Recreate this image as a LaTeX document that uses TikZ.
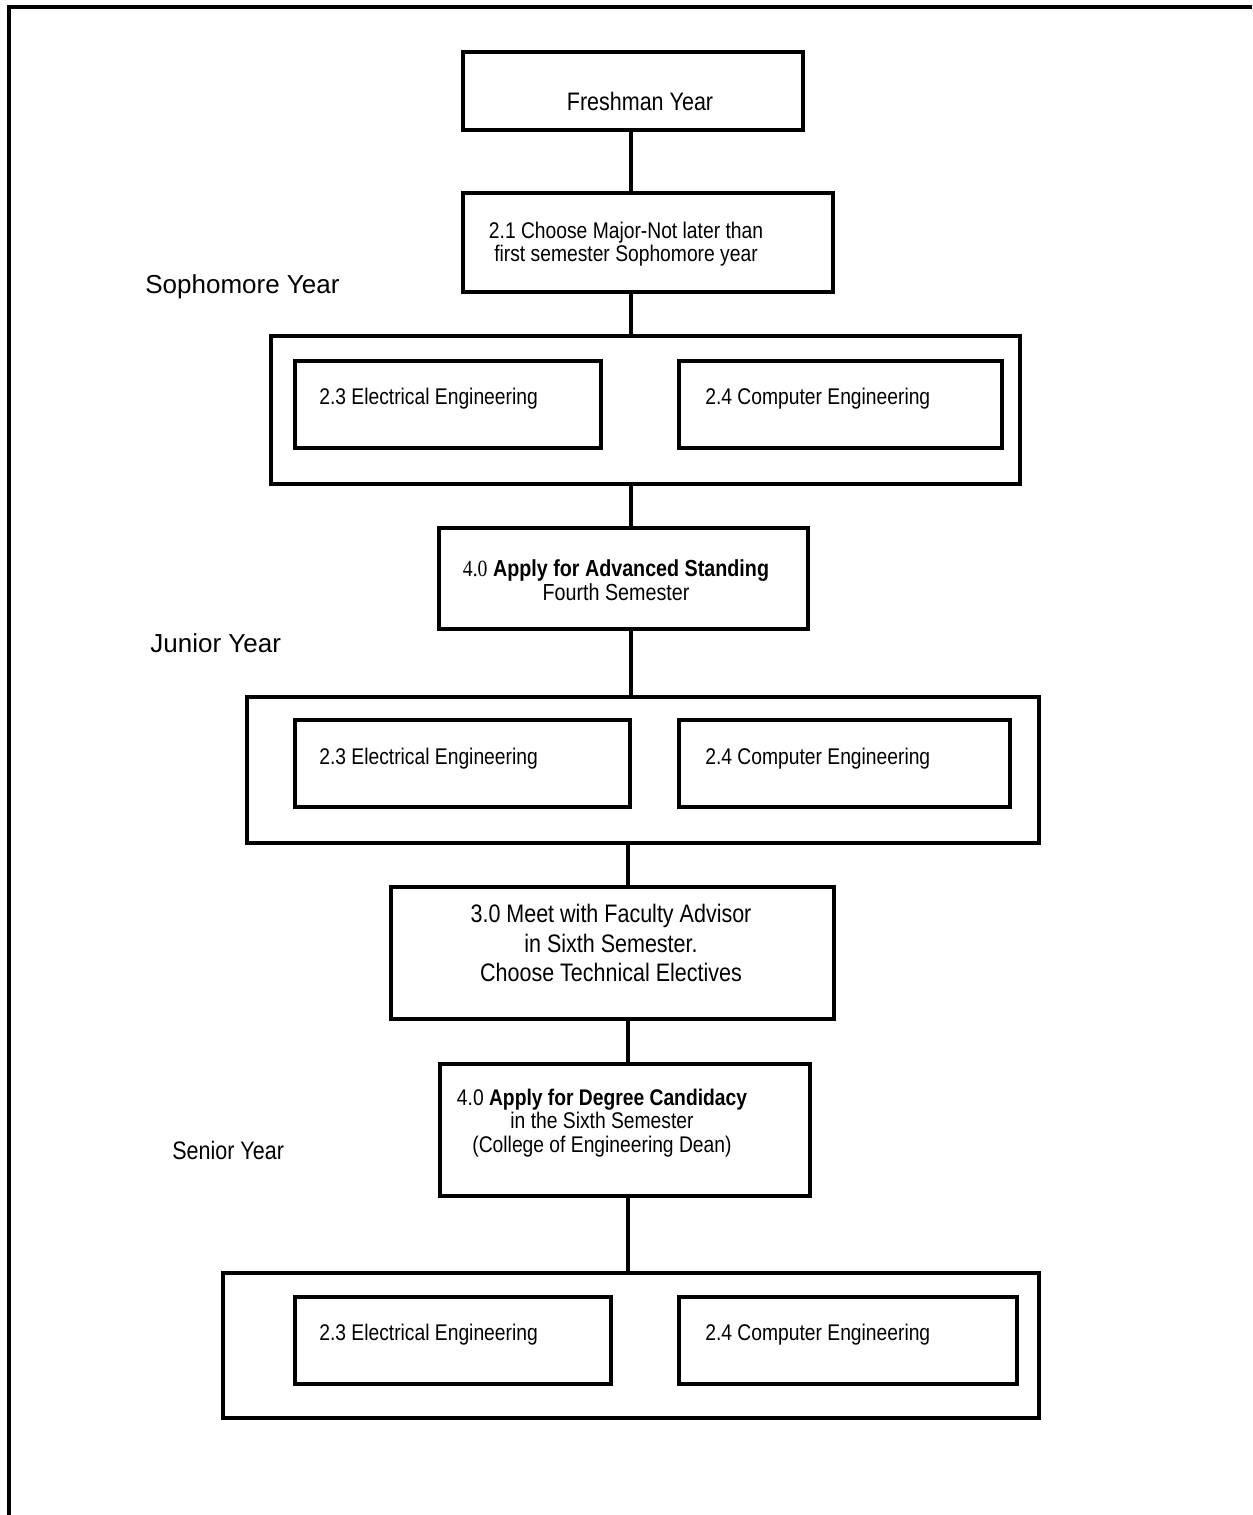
\documentclass[tikz,border=0pt]{standalone}
\usepackage{fontspec}
\setmainfont[FakeStretch=0.85]{Liberation Sans}
\newfontfamily\yearfont{Liberation Sans}
\newfontfamily\numfont[FakeStretch=0.85]{Liberation Serif}
\usetikzlibrary{positioning, fit}

\newcommand{\smalltxt}{\fontsize{12.9}{13.4}\selectfont}
\newcommand{\bigtxt}{\fontsize{14.4}{17}\selectfont}
\newcommand{\yeartxt}{\yearfont\fontsize{14.8}{17}\selectfont}

\begin{document}
\begin{tikzpicture}[x=0.02cm, y=-0.02cm,
    box/.style={draw, line width=1.8pt, inner sep=0pt},
    conn/.style={line width=1.8pt},
    txt/.style={inner sep=0pt, font=\smalltxt, align=center},
    lefttxt/.style={inner sep=0pt, font=\smalltxt, anchor=west},
    year/.style={inner sep=0pt, font=\yeartxt, anchor=west}]

    \useasboundingbox (0,0) rectangle (1252,1515);

    % page frame
    \draw[conn] (9,1515) -- (9,7) -- (1252,7);

    % the vertical spine
    \coordinate (spineA) at (631,0);
    \coordinate (spineB) at (628,0);

    % Freshman year
    \node[box, fit={(463,52) (803,130)}] (fresh) {};
    \node[txt, font=\bigtxt] (freshtext) at (640,101) {Freshman Year};

    \node[box, fit={(463,193) (833,292)}] (major) {};
    \node[txt] (majortext) at (626,244) {2.1 Choose Major-Not later than\\first semester Sophomore year};

    % Sophomore year
    \node[year] (sophlabel) at (145,287) {Sophomore Year};
    \node[box, fit={(271,336) (1020,484)}] (soph) {};
    \node[box, fit={(295,361) (601,448)}] (sophee) {};
    \node[box, fit={(679,361) (1002,448)}] (sophce) {};
    \node[lefttxt] (sopheetext) at (319,399) {2.3 Electrical Engineering};
    \node[lefttxt] (sophcetext) at (705,399) {2.4 Computer Engineering};

    \node[box, fit={(439,528) (808,629)}] (adv) {};
    \node[txt, font={\fontsize{13.2}{13.8}\selectfont}] (advtext) at (616,580)
        {{\numfont 4.0} \textbf{Apply for Advanced Standing}\\Fourth Semester};

    % Junior year
    \node[year] (juniorlabel) at (150,643) {Junior Year};
    \node[box, fit={(247,697) (1039,843)}] (junior) {};
    \node[box, fit={(295,720) (630,807)}] (junioree) {};
    \node[box, fit={(679,720) (1010,807)}] (juniorce) {};
    \node[lefttxt] (junioreetext) at (319,759) {2.3 Electrical Engineering};
    \node[lefttxt] (juniorcetext) at (705,759) {2.4 Computer Engineering};

    \node[box, fit={(391,887) (834,1019)}] (fac) {};
    \node[txt, font=\bigtxt] (factext) at (611,943)
        {3.0 Meet with Faculty Advisor\\in Sixth Semester.\\Choose Technical Electives};

    % Senior year
    \node[box, fit={(440,1064) (810,1196)}] (deg) {};
    \node[txt] (degtext) at (602,1123)
        {4.0 \textbf{Apply for Degree Candidacy}\\in the Sixth Semester\\(College of Engineering Dean)};
    \node[year, font={\fontsize{14.4}{17}\selectfont}] (seniorlabel) at (172,1150) {Senior Year};

    \node[box, fit={(223,1273) (1039,1418)}] (senior) {};
    \node[box, fit={(295,1297) (611,1384)}] (senioree) {};
    \node[box, fit={(679,1297) (1017,1384)}] (seniorce) {};
    \node[lefttxt] (senioreetext) at (319,1335) {2.3 Electrical Engineering};
    \node[lefttxt] (seniorcetext) at (705,1335) {2.4 Computer Engineering};

    % connectors
    \draw[conn] (fresh.south -| spineA) -- (major.north -| spineA);
    \draw[conn] (major.south -| spineA) -- (soph.north -| spineA);
    \draw[conn] (soph.south -| spineA) -- (adv.north -| spineA);
    \draw[conn] (adv.south -| spineA) -- (junior.north -| spineA);
    \draw[conn] (junior.south -| spineB) -- (fac.north -| spineB);
    \draw[conn] (fac.south -| spineB) -- (deg.north -| spineB);
    \draw[conn] (deg.south -| spineB) -- (senior.north -| spineB);
\end{tikzpicture}
\end{document}
